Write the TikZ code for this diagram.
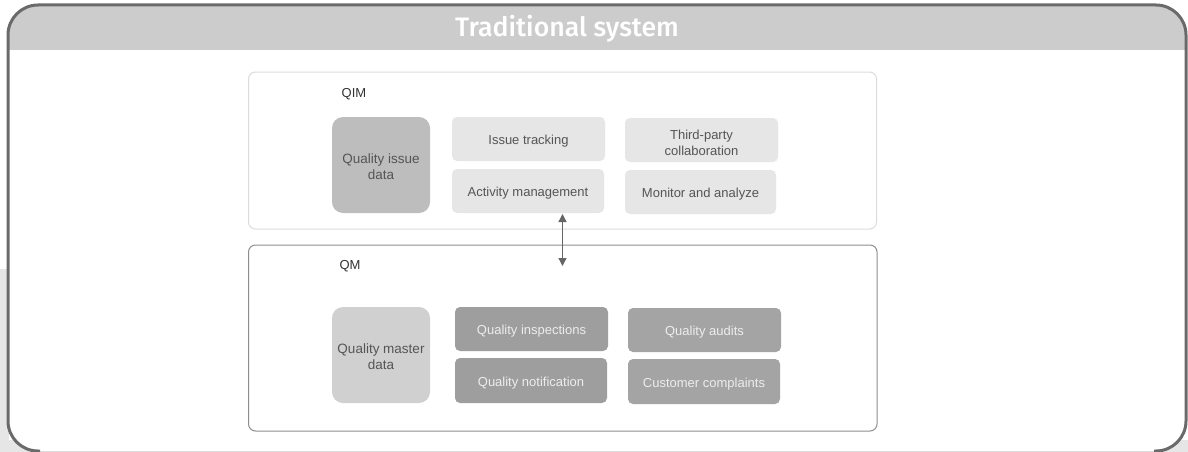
\documentclass[tikz,border=0pt]{standalone}
\usepackage{fontspec}
\setmainfont{Liberation Sans}
\newfontfamily\titlefont{Fira Sans}[UprightFont={* Medium}]
\usetikzlibrary{arrows.meta}
\definecolor{frameline}{HTML}{6A6A6A}
\definecolor{bandgray}{HTML}{CCCCCC}
\definecolor{outgray}{HTML}{E6E6E6}
\definecolor{qimline}{HTML}{DCDCDC}
\definecolor{qmline}{HTML}{8E8E8E}
\definecolor{darktext}{HTML}{555555}
\definecolor{labeltext}{HTML}{333333}
\definecolor{fillA}{HTML}{BDBDBD}
\definecolor{fillB}{HTML}{E6E6E6}
\definecolor{fillC}{HTML}{D0D0D0}
\definecolor{fillD}{HTML}{9E9E9E}
\definecolor{fillE}{HTML}{A4A4A4}
\definecolor{arrowgray}{HTML}{666666}
\newcommand{\twolines}[2]{\begin{tabular}{@{}c@{}}#1\\#2\end{tabular}}
\tikzset{
  container/.style={draw, line width=1pt, rounded corners=7pt, inner sep=0pt},
  tile/.style={rounded corners=5pt, inner sep=0pt, font=\fontsize{13}{15.5}\selectfont, text height=14pt, text depth=3pt},
  twoline/.style={text height=14.7pt, text depth=0pt},
  lighttile/.style={tile, fill=fillB, text=darktext},
  darktile/.style={tile, fill=fillD, text=white!93!black},
  bigtile/.style={rounded corners=11pt, inner sep=0pt, font=\fontsize{13.5}{16}\selectfont, text=darktext, minimum width=98pt, minimum height=96pt, twoline},
  sectlabel/.style={font=\fontsize{13}{15}\selectfont, text=labeltext, inner sep=0pt},
  link/.style={draw=arrowgray, line width=1.3pt, {Triangle[length=8pt,width=8pt]}-{Triangle[length=8pt,width=8pt]}}
}
\begin{document}
\begin{tikzpicture}[x=1pt,y=-1pt]
\useasboundingbox (0,0) rectangle (1188,452);
% outside grey areas
\fill[outgray] (0,269) rectangle (9,452);
\fill[outgray] (0,440) rectangle (1188,452);
% frame
\fill[white, rounded corners=30pt] (8,5) rectangle (1186,451);
\begin{scope}
  \clip[rounded corners=30pt] (8,5) rectangle (1186,451);
  \fill[bandgray] (8,5) rectangle (1186,50);
\end{scope}
\draw[bandgray!70!white, line width=1pt] (30,451) -- (1160,451);
\draw[frameline, line width=3pt, rounded corners=30pt] (40,451) -- (8,451) -- (8,5) -- (1186,5) -- (1186,451) -- (1154,451);
\node[font=\titlefont\fontsize{26.7}{30}\selectfont, text=white, inner sep=0pt] (title) at (567,28.5) {Traditional system};
% containers
\node[container, draw=qimline, minimum width=628pt, minimum height=157pt] (qim) at (562.5,150.5) {};
\node[container, draw=qmline, minimum width=628.5pt, minimum height=186pt] (qm) at (562.75,338) {};
\node[sectlabel] (qimlabel) at (354,94.5) {QIM};
\node[sectlabel] (qmlabel) at (350,266) {QM};
% QIM tiles
\node[bigtile, fill=fillA] (qid) at (381,165) {\twolines{Quality issue}{data}};
\node[lighttile, minimum width=153pt, minimum height=44pt] (it) at (528.5,139) {Issue tracking};
\node[lighttile, minimum width=152pt, minimum height=44pt] (am) at (528,191) {Activity management};
\node[lighttile, twoline, minimum width=153pt, minimum height=44pt] (tpc) at (701.5,140) {\twolines{Third-party}{collaboration}};
\node[lighttile, minimum width=151pt, minimum height=44pt] (ma) at (700.5,192) {Monitor and analyze};
% QM tiles
\node[bigtile, fill=fillC] (qmd) at (381,355) {\twolines{Quality master}{data}};
\node[darktile, minimum width=153pt, minimum height=44pt] (qi) at (531.5,329) {Quality inspections};
\node[darktile, minimum width=152pt, minimum height=45pt] (qn) at (531,380.5) {Quality notification};
\node[darktile, fill=fillE, minimum width=153pt, minimum height=44pt] (qa) at (704.5,330) {Quality audits};
\node[darktile, fill=fillE, minimum width=152pt, minimum height=45pt] (cc) at (704,381.5) {Customer complaints};
% link
\coordinate (ltop) at (562.5,214);
\coordinate (lbot) at (562.5,266);
\draw[link] (ltop) -- (lbot);
\end{tikzpicture}
\end{document}
